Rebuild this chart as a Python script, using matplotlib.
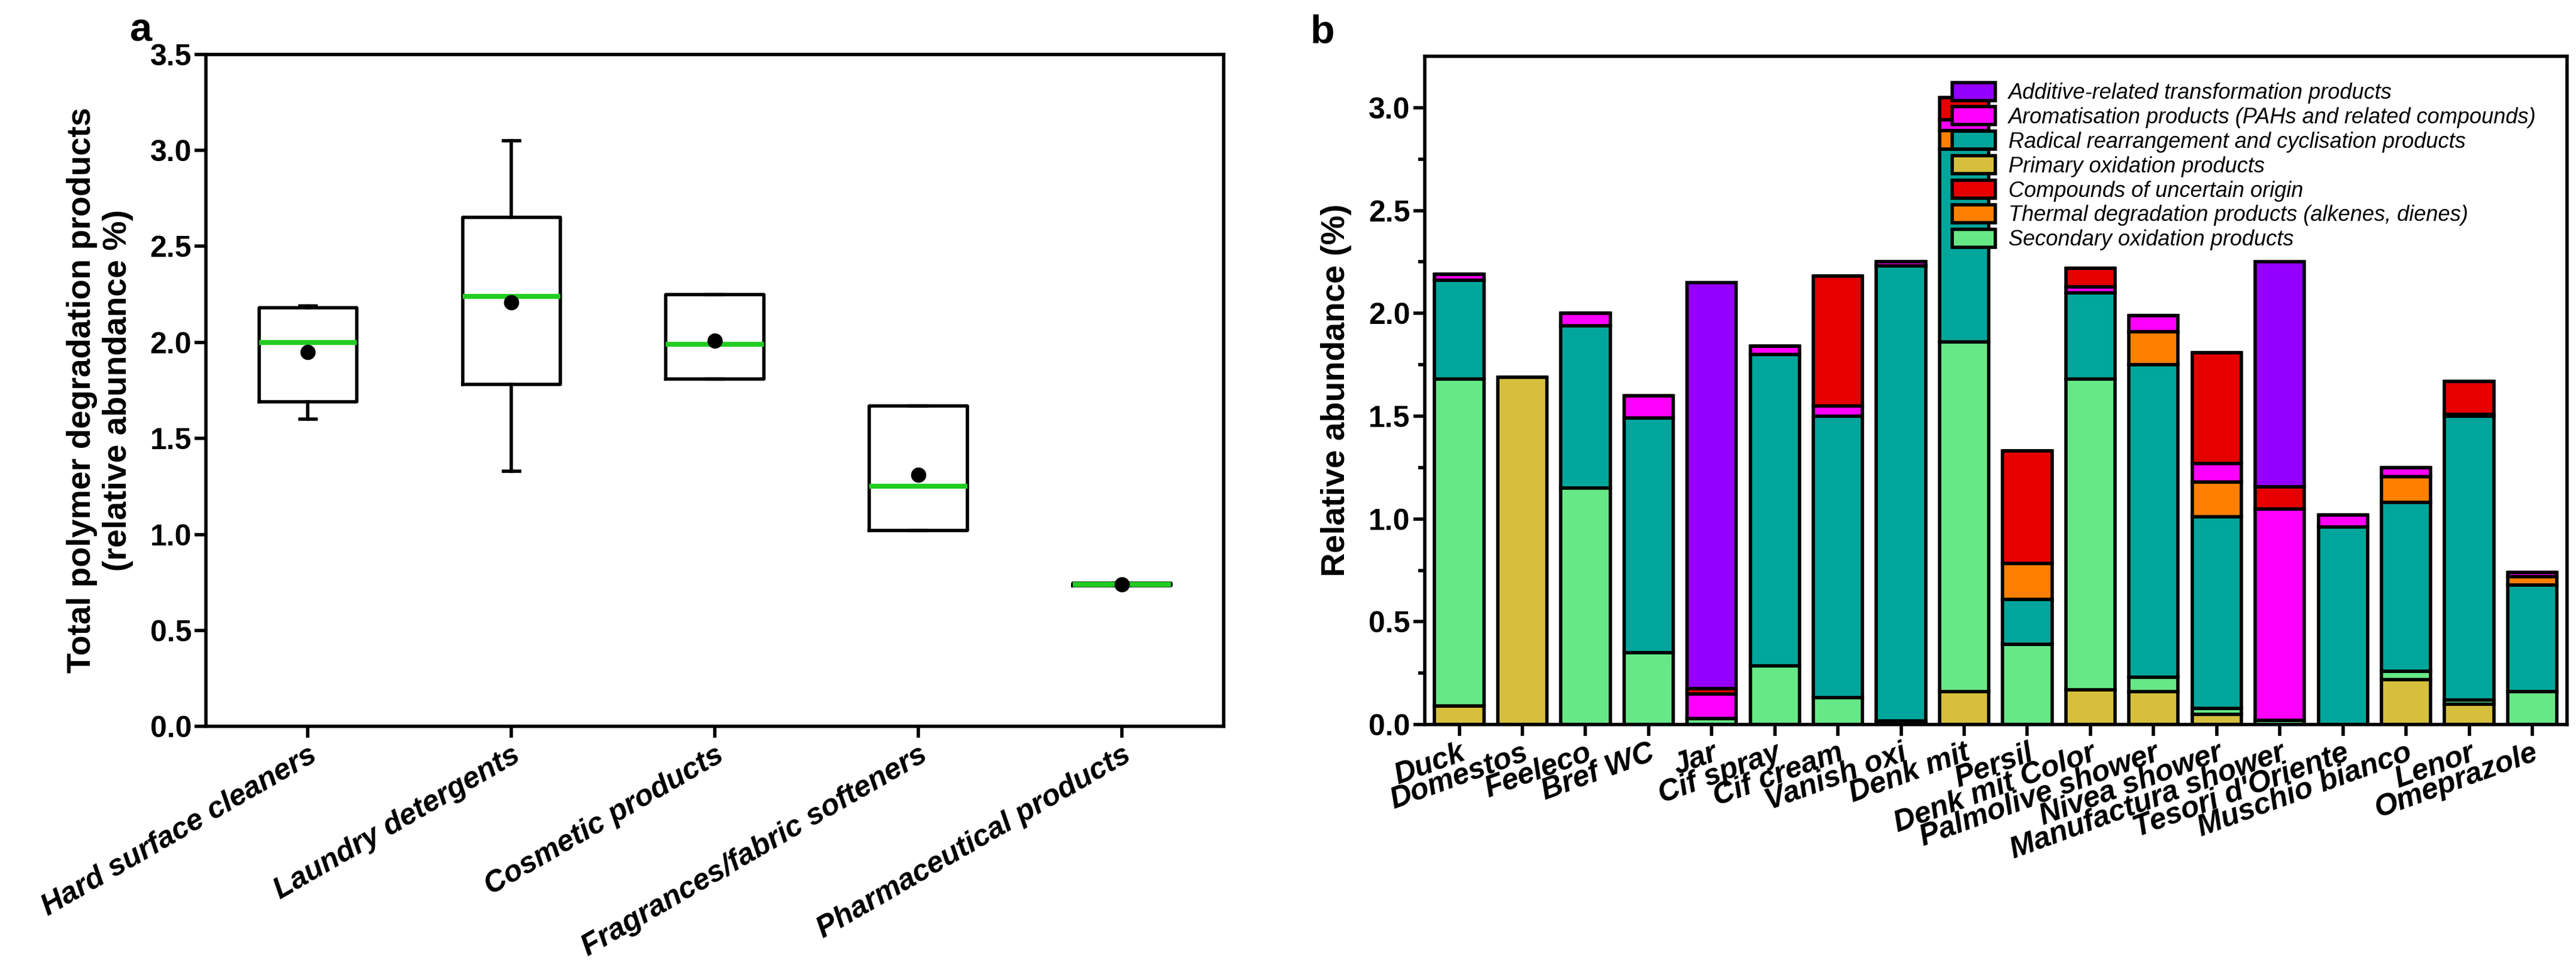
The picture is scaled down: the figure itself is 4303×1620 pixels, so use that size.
import numpy as np
import matplotlib.pyplot as plt

plt.rcParams['font.family'] = ['Liberation Sans', 'DejaVu Sans']
plt.rcParams['font.weight'] = 'bold'

# ---- panel a data ----
groups = ["Hard surface cleaners", "Laundry detergents", "Cosmetic products",
          "Fragrances/fabric softeners", "Pharmaceutical products"]
q1 = [1.69, 1.78, 1.81, 1.02, 0.735]
q3 = [2.18, 2.65, 2.25, 1.67, 0.745]
med = [2.00, 2.24, 1.99, 1.25, 0.74]
mean = [1.95, 2.21, 2.01, 1.31, 0.74]
wlo = [1.60, 1.33, 1.81, 1.02, 0.735]
whi = [2.19, 3.05, 2.25, 1.67, 0.745]

# ---- panel b data ----
products = ["Duck", "Domestos", "Feeleco", "Bref WC", "Jar", "Cif spray", "Cif cream",
            "Vanish oxi", "Denk mit", "Persil", "Denk mit Color", "Palmolive shower",
            "Nivea shower", "Manufactura shower", "Tesori d'Oriente", "Muschio bianco",
            "Lenor", "Omeprazole"]
primary = [0.09, 1.69, 0, 0, 0, 0, 0, 0, 0.16, 0, 0.17, 0.16, 0.05, 0, 0, 0.22, 0.10, 0]
secondary = [1.59, 0, 1.15, 0.35, 0.03, 0.285, 0.13, 0.017, 1.70, 0.39, 1.51, 0.07, 0.03, 0.02, 0, 0.04, 0.02, 0.16]
radical = [0.48, 0, 0.79, 1.14, 0, 1.515, 1.37, 2.213, 0.94, 0.22, 0.42, 1.52, 0.93, 0, 0.96, 0.82, 1.38, 0.52]
thermal = [0, 0, 0, 0, 0, 0, 0, 0, 0.09, 0.175, 0, 0.16, 0.17, 0, 0, 0.125, 0, 0.04]
aromatic = [0.03, 0, 0.06, 0.11, 0.12, 0.04, 0.05, 0.02, 0.05, 0, 0.03, 0.08, 0.09, 1.03, 0.06, 0.045, 0.01, 0.02]
uncertain = [0, 0, 0, 0, 0.025, 0, 0.63, 0, 0.11, 0.545, 0.09, 0, 0.54, 0.105, 0, 0, 0.16, 0]
additive = [0, 0, 0, 0, 1.975, 0, 0, 0, 0, 0, 0, 0, 0, 1.095, 0, 0, 0, 0]

series = [
    ("Primary oxidation products", primary, "#d6bf3c"),
    ("Secondary oxidation products", secondary, "#66e887"),
    ("Radical rearrangement and cyclisation products", radical, "#00a69b"),
    ("Thermal degradation products (alkenes, dienes)", thermal, "#ff8000"),
    ("Aromatisation products (PAHs and related compounds)", aromatic, "#ff00ff"),
    ("Compounds of uncertain origin", uncertain, "#e60000"),
    ("Additive-related transformation products", additive, "#9400ff"),
]
legend_order = [6, 4, 2, 0, 5, 3, 1]

fig = plt.figure(figsize=(43.03, 16.2), dpi=100)
ax1 = fig.add_axes([0.080, 0.251, 0.395, 0.693])
ax2 = fig.add_axes([0.553, 0.253, 0.4435, 0.689])

# ---- panel a ----
stats = [dict(q1=q1[i], q3=q3[i], med=med[i], mean=mean[i], whislo=wlo[i], whishi=whi[i],
              fliers=[], label=groups[i]) for i in range(len(groups))]
ax1.bxp(stats, widths=0.48, showmeans=False, patch_artist=False,
        boxprops=dict(color="black", linewidth=4),
        whiskerprops=dict(color="black", linewidth=4),
        capprops=dict(color="black", linewidth=4),
        medianprops=dict(color="#22cc22", linewidth=6),
        capwidths=0.08)
ax1.scatter(np.arange(1, len(groups) + 1), mean, s=300, color="black", zorder=5)
ax1.set_ylim(0, 3.5)
ax1.set_xlim(0.5, 5.5)
ax1.set_yticks(np.arange(0, 3.51, 0.5))
ax1.set_yticklabels([f"{v:.1f}" for v in np.arange(0, 3.51, 0.5)], fontsize=36)
ax1.set_xticklabels(groups, rotation=30, ha="right", rotation_mode="anchor",
                    fontsize=36, style="italic")
ax1.set_ylabel("Total polymer degradation products\n(relative abundance %)", fontsize=40,
               fontweight="bold", labelpad=20)
ax1.text(-0.075, 1.02, "a", transform=ax1.transAxes, fontsize=48, fontweight="bold")

# ---- panel b ----
x = np.arange(len(products))
bottom = np.zeros(len(products))
handles = []
for name, vals, col in series:
    vals = np.array(vals)
    h = ax2.bar(x, vals, 0.78, bottom=bottom, color=col, edgecolor="black", linewidth=4, label=name)
    handles.append(h)
    bottom += vals
ax2.set_xlim(-0.55, len(products) - 0.45)
ax2.set_ylim(0, 3.25)
ax2.set_yticks(np.arange(0, 3.01, 0.5))
ax2.set_yticklabels([f"{v:.1f}" for v in np.arange(0, 3.01, 0.5)], fontsize=36)
ax2.set_yticks(np.arange(0.25, 3.25, 0.5), minor=True)
ax2.set_xticks(x)
ax2.set_xticklabels(products, rotation=20, ha="right", rotation_mode="anchor",
                    fontsize=36, style="italic")
ax2.set_ylabel("Relative abundance (%)", fontsize=40, fontweight="bold", labelpad=20)
ax2.text(-0.1, 1.02, "b", transform=ax2.transAxes, fontsize=48, fontweight="bold")
leg = ax2.legend([handles[i] for i in legend_order], [series[i][0] for i in legend_order],
                 loc="upper right", bbox_to_anchor=(0.99, 0.99), frameon=False,
                 prop=dict(size=26, style="italic", weight="normal"),
                 handlelength=2.0, handleheight=0.9, labelspacing=0.15, handletextpad=0.6)

for ax in (ax1, ax2):
    for s in ax.spines.values():
        s.set_linewidth(4)
    ax.tick_params(which="major", width=4, length=14)
    ax.tick_params(which="minor", width=4, length=8)
    for t in ax.get_yticklabels() + ax.get_xticklabels():
        t.set_fontweight("bold")

fig.savefig("out.png", dpi=100)
